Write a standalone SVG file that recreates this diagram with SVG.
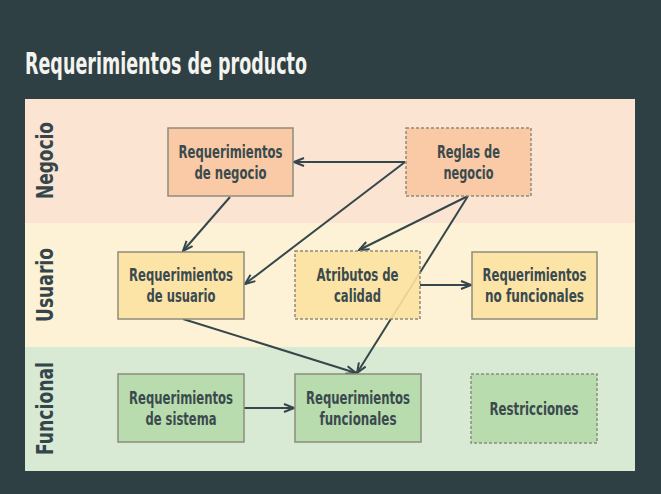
<svg xmlns="http://www.w3.org/2000/svg" width="661" height="494" viewBox="0 0 661 494">
<defs>
<style>
.t{font-family:"Liberation Sans Narrow","DejaVu Sans Condensed","DejaVu Sans",sans-serif;fill:#3a4a4e;text-anchor:middle;font-size:18px;font-weight:bold;}
.lane{font-family:"Liberation Sans Narrow","DejaVu Sans Condensed","DejaVu Sans",sans-serif;fill:#34464b;text-anchor:middle;font-size:23px;font-weight:bold;}
.box{stroke:#8e8c7c;stroke-width:1.5;fill-opacity:0.9;}
.dash{stroke-dasharray:3 2;}
.o{fill:#f8c7a0;}
.y{fill:#fce2a2;}
.g{fill:#b5daa8;}
.c{stroke:#35474b;stroke-width:2;fill:none;marker-end:url(#ah);}
</style>
<marker id="ah" viewBox="0 0 12 10" refX="11" refY="5" markerWidth="12" markerHeight="10" markerUnits="userSpaceOnUse" orient="auto">
<path d="M1,1 L11,5 L1,9" fill="none" stroke="#35474b" stroke-width="2"/>
</marker>
</defs>
<rect x="0" y="0" width="661" height="494" fill="#2f4045"/>
<text x="25" y="74" textLength="282" lengthAdjust="spacingAndGlyphs" style="font-family:'Liberation Sans Narrow','DejaVu Sans Condensed','DejaVu Sans',sans-serif;font-size:31px;font-weight:bold;fill:#f4f4ef;">Requerimientos de producto</text>
<g id="lanes">
<rect x="25" y="99" width="610" height="124" fill="#fbe4d2"/>
<rect x="25" y="223" width="610" height="124" fill="#fdf2d5"/>
<rect x="25" y="347" width="610" height="124" fill="#d8e9d4"/>
<text class="lane" transform="translate(53,160.5) rotate(-90)" textLength="77" lengthAdjust="spacingAndGlyphs">Negocio</text>
<text class="lane" transform="translate(53,285) rotate(-90)" textLength="74" lengthAdjust="spacingAndGlyphs">Usuario</text>
<text class="lane" transform="translate(53,408.5) rotate(-90)" textLength="93" lengthAdjust="spacingAndGlyphs">Funcional</text>
</g>
<g id="connectors">
<line class="c" x1="405" y1="162" x2="294" y2="162"/>
<line class="c" x1="405" y1="162" x2="245" y2="284"/>
<line class="c" x1="230" y1="197" x2="183" y2="251"/>
<line class="c" x1="468" y1="196" x2="359" y2="250"/>
<line class="c" x1="468" y1="196" x2="357" y2="373"/>
<line class="c" x1="420" y1="285" x2="471" y2="285"/>
<line class="c" x1="183" y1="319" x2="356" y2="373"/>
<line class="c" x1="244" y1="408" x2="294" y2="408"/>
</g>
<g id="req-negocio">
<rect class="box o" x="168" y="128" width="125" height="68"/>
<text class="t" x="230.5" y="158" textLength="104" lengthAdjust="spacingAndGlyphs">Requerimientos</text>
<text class="t" x="230.5" y="179" textLength="72" lengthAdjust="spacingAndGlyphs">de negocio</text>
</g>
<g id="reglas-negocio">
<rect class="box o dash" x="406" y="128" width="125" height="68"/>
<text class="t" x="468.5" y="158" textLength="63" lengthAdjust="spacingAndGlyphs">Reglas de</text>
<text class="t" x="468.5" y="179" textLength="50" lengthAdjust="spacingAndGlyphs">negocio</text>
</g>
<g id="req-usuario">
<rect class="box y" x="118" y="252" width="126" height="67"/>
<text class="t" x="181" y="281" textLength="104" lengthAdjust="spacingAndGlyphs">Requerimientos</text>
<text class="t" x="181" y="302" textLength="69" lengthAdjust="spacingAndGlyphs">de usuario</text>
</g>
<g id="atributos-calidad">
<rect class="box y dash" x="295" y="251" width="125" height="68"/>
<text class="t" x="357.5" y="281" textLength="82" lengthAdjust="spacingAndGlyphs">Atributos de</text>
<text class="t" x="357.5" y="302" textLength="47" lengthAdjust="spacingAndGlyphs">calidad</text>
</g>
<g id="req-no-funcionales">
<rect class="box y" x="472" y="252" width="125" height="67"/>
<text class="t" x="534.5" y="281" textLength="104" lengthAdjust="spacingAndGlyphs">Requerimientos</text>
<text class="t" x="534.5" y="302" textLength="99" lengthAdjust="spacingAndGlyphs">no funcionales</text>
</g>
<g id="req-sistema">
<rect class="box g" x="118" y="374" width="126" height="68"/>
<text class="t" x="181" y="404" textLength="104" lengthAdjust="spacingAndGlyphs">Requerimientos</text>
<text class="t" x="181" y="425" textLength="71" lengthAdjust="spacingAndGlyphs">de sistema</text>
</g>
<g id="req-funcionales">
<rect class="box g" x="295" y="374" width="126" height="68"/>
<text class="t" x="358" y="404" textLength="104" lengthAdjust="spacingAndGlyphs">Requerimientos</text>
<text class="t" x="358" y="425" textLength="77" lengthAdjust="spacingAndGlyphs">funcionales</text>
</g>
<g id="restricciones">
<rect class="box g dash" x="471" y="374" width="126" height="69"/>
<text class="t" x="534" y="415" textLength="89" lengthAdjust="spacingAndGlyphs">Restricciones</text>
</g>
</svg>
